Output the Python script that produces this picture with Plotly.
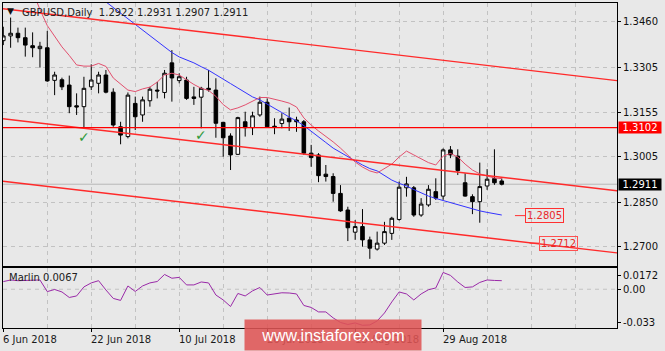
import plotly.graph_objects as go
import pandas as pd

# ---------------- data ----------------
dates = pd.bdate_range("2018-06-06", "2018-09-10")
x_idx = list(range(len(dates)))

opens = [1.3396, 1.3412, 1.3421, 1.3406, 1.3379, 1.3369, 1.3372, 1.3262, 1.3264, 1.3246,
         1.3176, 1.3173, 1.3240, 1.3252, 1.3280, 1.3222, 1.3105, 1.3072, 1.3184, 1.3145,
         1.3193, 1.3229, 1.3221, 1.3321, 1.3261, 1.3263, 1.3206, 1.3205, 1.3235, 1.3229,
         1.3120, 1.3074, 1.3012, 1.3122, 1.3102, 1.3145, 1.3188, 1.3107, 1.3116, 1.3134,
         1.3128, 1.3122, 1.3016, 1.3010, 1.2945, 1.2937, 1.2880, 1.2824, 1.2749, 1.2768,
         1.2723, 1.2692, 1.2712, 1.2745, 1.2792, 1.2899, 1.2899, 1.2807, 1.2841, 1.2886,
         1.2871, 1.3027, 1.3006, 1.2916, 1.2869, 1.2852, 1.2905, 1.2930, 1.2922]
highs = [1.3443, 1.3474, 1.3440, 1.3440, 1.3424, 1.3392, 1.3429, 1.3291, 1.3271, 1.3278,
         1.3218, 1.3274, 1.3316, 1.3291, 1.3297, 1.3235, 1.3122, 1.3221, 1.3207, 1.3207,
         1.3240, 1.3257, 1.3297, 1.3364, 1.3286, 1.3274, 1.3240, 1.3240, 1.3297, 1.3269,
         1.3122, 1.3083, 1.3139, 1.3156, 1.3156, 1.3207, 1.3201, 1.3134, 1.3151, 1.3170,
         1.3139, 1.3128, 1.3044, 1.3016, 1.2976, 1.2948, 1.2908, 1.2835, 1.2790, 1.2827,
         1.2734, 1.2751, 1.2784, 1.2801, 1.2920, 1.2936, 1.2905, 1.2864, 1.2908, 1.2931,
         1.3032, 1.3040, 1.3029, 1.2948, 1.2877, 1.2984, 1.2962, 1.3029, 1.2931]
lows = [1.3381, 1.3372, 1.3390, 1.3342, 1.3340, 1.3305, 1.3257, 1.3212, 1.3229, 1.3151,
        1.3145, 1.3100, 1.3229, 1.3218, 1.3218, 1.3105, 1.3046, 1.3066, 1.3094, 1.3122,
        1.3173, 1.3201, 1.3201, 1.3190, 1.3252, 1.3196, 1.3179, 1.3100, 1.3224, 1.3068,
        1.3004, 1.2959, 1.3010, 1.3072, 1.3077, 1.3139, 1.3103, 1.3080, 1.3100, 1.3091,
        1.3088, 1.3010, 1.2970, 1.2918, 1.2920, 1.2852, 1.2818, 1.2719, 1.2723, 1.2700,
        1.2659, 1.2687, 1.2706, 1.2723, 1.2788, 1.2869, 1.2801, 1.2801, 1.2835, 1.2858,
        1.2858, 1.2999, 1.2942, 1.2869, 1.2810, 1.2781, 1.2892, 1.2909, 1.2907]
closes = [1.3412, 1.3421, 1.3406, 1.3381, 1.3372, 1.3377, 1.3260, 1.3280, 1.3240, 1.3173,
          1.3172, 1.3235, 1.3263, 1.3280, 1.3222, 1.3111, 1.3077, 1.3212, 1.3139, 1.3196,
          1.3232, 1.3226, 1.3286, 1.3270, 1.3274, 1.3201, 1.3201, 1.3235, 1.3230, 1.3117,
          1.3068, 1.3010, 1.3136, 1.3102, 1.3142, 1.3188, 1.3105, 1.3103, 1.3131, 1.3122,
          1.3122, 1.3016, 1.3001, 1.2940, 1.2937, 1.2880, 1.2821, 1.2764, 1.2768, 1.2723,
          1.2695, 1.2712, 1.2751, 1.2796, 1.2901, 1.2912, 1.2807, 1.2844, 1.2894, 1.2864,
          1.3027, 1.3010, 1.2957, 1.2871, 1.2852, 1.2903, 1.2928, 1.2916, 1.2911]

ma_red = [None, None, None, None,
          1.3564, 1.3501, 1.3447, 1.3412, 1.3375, 1.3346, 1.3314, 1.3310, 1.3310, 1.3319,
          1.3309, 1.3270, 1.3250, 1.3229, 1.3224, 1.3233, 1.3239, 1.3256, 1.3280, 1.3286,
          1.3280, 1.3263, 1.3248, 1.3235, 1.3228, 1.3208, 1.3180, 1.3162, 1.3169, 1.3179,
          1.3192, 1.3204, 1.3204, 1.3199, 1.3192, 1.3185, 1.3172, 1.3135, 1.3111, 1.3091,
          1.3074, 1.3054, 1.3033, 1.3010, 1.2986, 1.2969, 1.2956, 1.2949, 1.2963, 1.2979,
          1.3003, 1.3023, 1.3010, 1.2997, 1.2984, 1.2976, 1.3006, 1.3015, 1.3003, 1.2979,
          1.2959, 1.2946, 1.2939, 1.2932, 1.2930]
ma_blue = [None] * 13 + [
          1.3546, 1.3527, 1.3507, 1.3488, 1.3469, 1.3450, 1.3430, 1.3412, 1.3393, 1.3375,
          1.3356, 1.3341, 1.3331, 1.3321, 1.3308, 1.3296, 1.3281, 1.3267, 1.3251, 1.3236,
          1.3221, 1.3206, 1.3196, 1.3182, 1.3169, 1.3153, 1.3138, 1.3125, 1.3109, 1.3091,
          1.3071, 1.3052, 1.3033, 1.3018, 1.3003, 1.2990, 1.2976, 1.2964, 1.2956, 1.2939,
          1.2925, 1.2914, 1.2905, 1.2893, 1.2881, 1.2871, 1.2863, 1.2856, 1.2849, 1.2843,
          1.2836, 1.2827, 1.2821, 1.2816, 1.2812, 1.2807]

marlin = [0.0065, 0.0079, 0.0073, 0.0073, 0.0073, 0.0079, -0.0020, -0.0002, -0.0023, -0.0070,
          -0.0057, 0.0020, 0.0054, 0.0073, -0.0006, -0.0078, -0.0095, 0.0028, -0.0019, 0.0028,
          0.0054, 0.0066, 0.0126, 0.0094, 0.0101, 0.0037, 0.0037, 0.0062, 0.0054, -0.0049,
          -0.0091, -0.0147, -0.0036, -0.0057, -0.0014, 0.0015, -0.0049, -0.0040, -0.0030, -0.0032,
          -0.0040, -0.0138, -0.0155, -0.0193, -0.0193, -0.0244, -0.0283, -0.0300, -0.0287, -0.0307,
          -0.0304, -0.0270, -0.0202, -0.0108, -0.0023, -0.0040, -0.0091, -0.0040, -0.0004, 0.0011,
          0.0143, 0.0118, 0.0062, 0.0015, 0.0020, 0.0058, 0.0079, 0.0075, 0.0073]

# channel lines: price at left edge and right edge of the view
chan_top = [1.3504, 1.3261]
chan_mid = [1.3132, 1.2889]
chan_low = [1.2921, 1.2679]
level_line = 1.3102
bid_price = 1.2911
label_ma = 1.2805
label_chan = 1.2712
check_idx = [11, 27]
check_price = [1.3071, 1.3077]

price_ticks = [1.3460, 1.3305, 1.3155, 1.3005, 1.2850, 1.2700]
price_tick_text = ["1.3460", "1.3305", "1.3155", "1.3005", "1.2850", "1.2700"]
ind_ticks = [0.0113, 0.0, -0.0282]
ind_tick_text = ["0.0172", "0.00", "-0.033"]
date_labels = ["6 Jun 2018", "22 Jun 2018", "10 Jul 2018", "26 Jul 2018", "13 Aug 2018", "29 Aug 2018"]
label_dates = ["2018-06-06", "2018-06-22", "2018-07-10", "2018-07-26", "2018-08-13", "2018-08-29"]
label_idx = [dates.get_loc(pd.Timestamp(d)) for d in label_dates]

title_text = "GBPUSD,Daily\u00a0\u00a01.2922\u00a01.2931\u00a01.2907\u00a01.2911"
marlin_text = "Marlin 0.0067"

# ---------------- styling ----------------
FONT = "DejaVu Sans"
BG = "#e8e8e8"
GRID = "#c2c2c2"
X_RANGE = [-0.04, 83.72]
Y_RANGE = [1.26348, 1.35232]
Y2_RANGE = [-0.0330, 0.0181]
MAIN_BOTTOM = 62 / 325
IND_TOP = 60 / 325
grid_idx = list(range(0, 84, 6))

fig = go.Figure()

fig.add_trace(go.Candlestick(
    x=x_idx, open=opens, high=highs, low=lows, close=closes,
    xaxis="x", yaxis="y",
    increasing=dict(line=dict(color="black", width=1), fillcolor="white"),
    decreasing=dict(line=dict(color="black", width=1), fillcolor="black"),
    whiskerwidth=0, showlegend=False, hoverinfo="skip"))

fig.add_trace(go.Scatter(x=x_idx, y=ma_blue, mode="lines", xaxis="x", yaxis="y",
                         line=dict(color="#3333ff", width=1), showlegend=False, hoverinfo="skip"))
fig.add_trace(go.Scatter(x=x_idx, y=ma_red, mode="lines", xaxis="x", yaxis="y",
                         line=dict(color="#e2506e", width=1), showlegend=False, hoverinfo="skip"))

for ch in (chan_top, chan_mid, chan_low):
    fig.add_trace(go.Scatter(x=X_RANGE, y=ch, mode="lines", xaxis="x", yaxis="y",
                             line=dict(color="#ff2a2a", width=1.4), showlegend=False, hoverinfo="skip"))

fig.add_trace(go.Scatter(x=x_idx, y=marlin, mode="lines", xaxis="x2", yaxis="y2",
                         line=dict(color="#9a2aa8", width=1), showlegend=False, hoverinfo="skip"))

shapes = [
    dict(type="line", xref="x domain", yref="y", x0=0, x1=1, y0=bid_price, y1=bid_price,
         line=dict(color="#b8b8b8", width=1), layer="below"),
    dict(type="line", xref="x domain", yref="y", x0=0, x1=1, y0=level_line, y1=level_line,
         line=dict(color="#ff0000", width=1.2)),
    dict(type="line", xref="x2 domain", yref="y2", x0=0, x1=1, y0=0, y1=0,
         line=dict(color=GRID, width=1, dash="4px,4px"), layer="below"),
    dict(type="line", xref="x", yref="y", x0=69.8, x1=71.2, y0=label_ma, y1=label_ma,
         line=dict(color="#ff3030", width=1)),
    dict(type="line", xref="x", yref="y", x0=71.8, x1=73.1, y0=label_chan, y1=label_chan,
         line=dict(color="#ff3030", width=1)),
]

annotations = []
# date labels
for i, t in zip(label_idx, date_labels):
    annotations.append(dict(x=i, xref="x2", y=-0.034, yref="paper", text=t, showarrow=False,
                            xanchor="left", yanchor="middle", xshift=-2,
                            font=dict(family=FONT, size=10, color="#1a1a1a")))
# title and indicator label
annotations.append(dict(x=0.0277, y=0.9723, xref="paper", yref="paper", text=title_text,
                        showarrow=False, xanchor="left", yanchor="middle",
                        font=dict(family=FONT, size=10, color="#202020")))
annotations.append(dict(x=0.0115, y=0.9740, xref="paper", yref="paper", text="\u25bc",
                        showarrow=False, xanchor="center", yanchor="middle",
                        font=dict(family=FONT, size=9, color="#111111")))
annotations.append(dict(x=0.0065, y=0.1569, xref="paper", yref="paper", text=marlin_text,
                        showarrow=False, xanchor="left", yanchor="middle",
                        font=dict(family=FONT, size=10, color="#202020")))
# check marks
for ci, cp in zip(check_idx, check_price):
    annotations.append(dict(x=ci, y=cp, xref="x", yref="y", text="<b>\u2713</b>", showarrow=False,
                            xanchor="center", yanchor="middle",
                            font=dict(family=FONT, size=14, color="#2f9a3a")))
# price labels on chart
annotations.append(dict(x=71.2, y=label_ma, xref="x", yref="y", text="1.2805", showarrow=False,
                        xanchor="left", yanchor="middle", bordercolor="#ff3030", borderwidth=1,
                        borderpad=1, font=dict(family=FONT, size=10, color="#e82828")))
annotations.append(dict(x=73.1, y=label_chan, xref="x", yref="y", text="1.2712", showarrow=False,
                        xanchor="left", yanchor="middle", bordercolor="#ff5050", borderwidth=1,
                        borderpad=1, font=dict(family=FONT, size=10, color="#e82828")))
# axis price boxes
annotations.append(dict(x=1, y=level_line, xref="paper", yref="y", text="1.3102", showarrow=False,
                        xanchor="left", yanchor="middle", xshift=1, bgcolor="#ff0000",
                        width=42, height=11, align="center", borderpad=0,
                        font=dict(family=FONT, size=10, color="white")))
annotations.append(dict(x=1, y=bid_price, xref="paper", yref="y", text="1.2911", showarrow=False,
                        xanchor="left", yanchor="middle", xshift=1, bgcolor="#000000",
                        width=42, height=11, align="center", borderpad=0,
                        font=dict(family=FONT, size=10, color="white")))
# watermark (drawn last, on top)
annotations.append(dict(x=0.5375, y=-0.0215, xref="paper", yref="paper", text="www.instaforex.com",
                        showarrow=False, xanchor="center", yanchor="middle",
                        bgcolor="rgba(222,84,84,0.88)", width=176, height=30, borderpad=0,
                        font=dict(family="Liberation Sans", size=16, color="white")))

axis_common = dict(showline=True, linecolor="black", linewidth=1, mirror=True, zeroline=False)

fig.update_layout(
    width=665, height=351,
    margin=dict(l=3, r=48, t=3, b=23),
    paper_bgcolor=BG, plot_bgcolor=BG,
    showlegend=False,
    xaxis=dict(domain=[0, 1], anchor="y", range=X_RANGE, tickmode="array", tickvals=grid_idx,
               showticklabels=False, ticks="", showgrid=True, gridcolor=GRID, gridwidth=1,
               griddash="4px,4px", rangeslider=dict(visible=False), **axis_common),
    xaxis2=dict(domain=[0, 1], anchor="y2", range=X_RANGE, tickmode="array", tickvals=label_idx,
                showticklabels=False, ticks="outside", ticklen=3, tickcolor="black",
                showgrid=True, gridcolor=GRID, gridwidth=1, griddash="4px,4px",
                minor=dict(tickmode="array", tickvals=grid_idx, showgrid=True, gridcolor=GRID,
                           griddash="4px,4px", ticks=""),
                **axis_common),
    yaxis=dict(domain=[MAIN_BOTTOM, 1], anchor="x", side="right", range=Y_RANGE,
               tickmode="array", tickvals=price_ticks, ticktext=price_tick_text,
               ticks="outside", ticklen=3, tickcolor="black",
               showgrid=True, gridcolor=GRID, gridwidth=1, griddash="4px,4px",
               tickfont=dict(family=FONT, size=10, color="#111111"), **axis_common),
    yaxis2=dict(domain=[0, IND_TOP], anchor="x2", side="right", range=Y2_RANGE,
                tickmode="array", tickvals=ind_ticks, ticktext=ind_tick_text,
                ticks="outside", ticklen=3, tickcolor="black", showgrid=False,
                tickfont=dict(family=FONT, size=10, color="#111111"), **axis_common),
    shapes=shapes,
    annotations=annotations,
)

fig.write_html("out.html")
